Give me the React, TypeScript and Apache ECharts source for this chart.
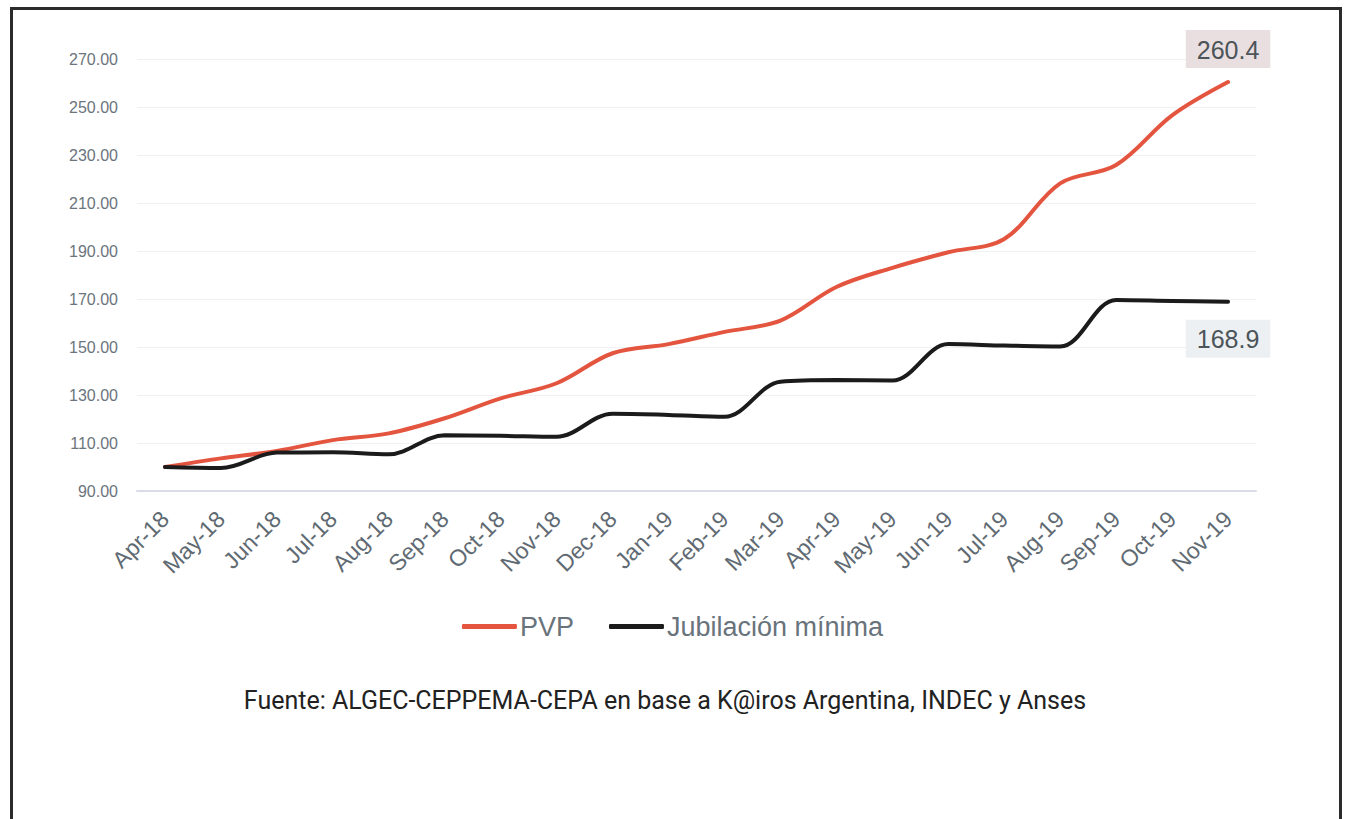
import React, { useEffect, useRef } from "react";
import * as echarts from "echarts";

const categories = [
  "Apr-18", "May-18", "Jun-18", "Jul-18", "Aug-18", "Sep-18", "Oct-18", "Nov-18", "Dec-18",
  "Jan-19", "Feb-19", "Mar-19", "Apr-19", "May-19", "Jun-19", "Jul-19", "Aug-19", "Sep-19",
  "Oct-19", "Nov-19",
];
const pvp = [
  100, 103.6, 106.7, 111.2, 114, 120.3, 128.6, 134.9, 147.4, 151.2, 156.3, 161,
  175, 183, 189.5, 195, 218.2, 225.8, 246.5, 260.4,
];
const jubilacion = [
  100, 99.6, 106, 106.1, 105.3, 113.2, 113, 112.6, 122.2, 121.7, 120.9, 135.5,
  136.2, 136, 151.2, 150.6, 150.2, 169.6, 169.2, 168.9,
];
const yTicks = [90, 110, 130, 150, 170, 190, 210, 230, 250, 270];
const seriesNames = ["PVP", "Jubilación mínima"];
const sourceText = "Fuente: ALGEC-CEPPEMA-CEPA en base a K@iros Argentina, INDEC y Anses";

const RED = "#e4553f";
const BLACK = "#1b1b1b";
const AXIS_FONT = "'Liberation Sans', Arial, sans-serif";

export default function App() {
  const ref = useRef<HTMLDivElement>(null);
  useEffect(() => {
    if (!ref.current) return;
    const chart = echarts.init(ref.current, null, { renderer: "svg" });
    const last = categories.length - 1;
    const withEndLabel = (arr: number[], bg: string, position: string, distance: number) =>
      arr.map((v, i) =>
        i === last
          ? {
              value: v,
              symbol: "circle",
              symbolSize: 2,
              itemStyle: { color: "rgba(0,0,0,0)", borderWidth: 0 },
              label: {
                show: true,
                position,
                distance,
                formatter: (p: any) => Number(p.value).toFixed(1),
                fontSize: 25,
                color: "#4b5459",
                fontFamily: AXIS_FONT,
                backgroundColor: bg,
                padding: [7, 11, 6, 11],
              },
            }
          : { value: v, symbol: "none" }
      );
    chart.setOption({
      animation: false,
      backgroundColor: "#ffffff",
      grid: { left: 137, right: 89, top: 59, bottom: 328, containLabel: false },
      xAxis: {
        type: "category",
        data: categories,
        boundaryGap: true,
        axisTick: { show: false },
        axisLine: { lineStyle: { color: "#d9dce4", width: 2 } },
        axisLabel: {
          rotate: 45,
          margin: 24,
          interval: 0,
          fontSize: 23,
          color: "#5f6a72",
          fontFamily: AXIS_FONT,
        },
      },
      yAxis: {
        type: "value",
        min: 90,
        max: 270,
        interval: 10,
        axisLine: { show: false },
        axisTick: { show: false },
        splitLine: { show: false },
        axisLabel: {
          margin: 19,
          fontSize: 16,
          color: "#6b747c",
          fontFamily: AXIS_FONT,
          formatter: (v: number) => (yTicks.includes(Math.round(v)) ? v.toFixed(2) : ""),
        },
      },
      legend: {
        data: seriesNames,
        top: 608,
        left: "center",
        icon: "roundRect",
        itemWidth: 55,
        itemHeight: 5,
        itemGap: 35,
        textStyle: { fontSize: 27, color: "#69737b", fontFamily: AXIS_FONT, padding: [0, 0, 0, -2] },
      },
      series: [
        {
          name: seriesNames[0],
          type: "line",
          smooth: 0.35,
          showSymbol: true,
          data: withEndLabel(pvp, "#e9dfe0", "top", 13),
          lineStyle: { color: RED, width: 4, cap: "round" },
          itemStyle: { color: RED },
          z: 3,
          markLine: {
            silent: true,
            symbol: "none",
            label: { show: false },
            lineStyle: { color: "#f0f1f3", width: 1, type: "solid" },
            data: yTicks.filter((t) => t !== 90).map((t) => ({ yAxis: t })),
            z: 1,
          },
        },
        {
          name: seriesNames[1],
          type: "line",
          smooth: 0.35,
          showSymbol: true,
          data: withEndLabel(jubilacion, "#edf0f3", "bottom", 17),
          lineStyle: { color: BLACK, width: 4, cap: "round" },
          itemStyle: { color: BLACK },
          z: 3,
        },
      ],
      graphic: [
        {
          type: "rect",
          shape: { x: 11.5, y: 8.5, width: 1329, height: 830 },
          style: { fill: "none", stroke: "#2b2b2b", lineWidth: 3 },
          silent: true,
          z: 100,
        },
        {
          type: "text",
          x: 665,
          y: 700,
          style: {
            text: sourceText,
            fontSize: 25,
            fontFamily: "Roboto, 'Liberation Sans', sans-serif",
            fill: "#222222",
            textAlign: "center",
            textVerticalAlign: "middle",
          },
        },
      ],
    });
    return () => chart.dispose();
  }, []);
  return (
    <div
      ref={ref}
      style={{ position: "fixed", left: 0, top: 0, width: 1345, height: 819, background: "#fff" }}
    />
  );
}
